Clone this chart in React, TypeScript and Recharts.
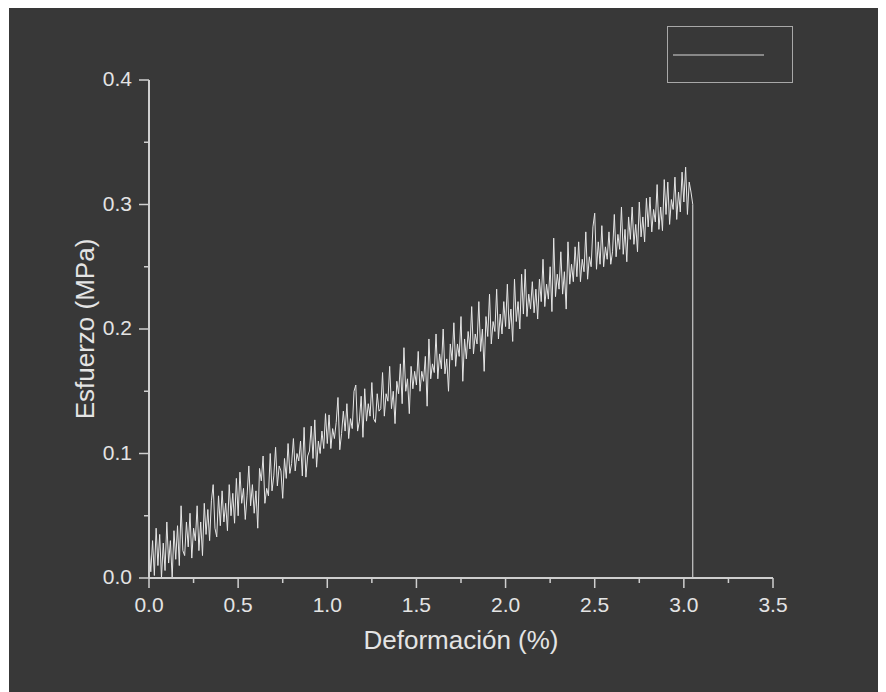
import React from 'react';
import { LineChart, Line, XAxis, YAxis, Label } from 'recharts';

// sampled every 0.01 % strain, stress in MPa
const strainStep = 0.01;
const stress = [
  0.025, 0.005, 0.030, 0.002, 0.040, 0.010, 0.035, 0.000, 0.028, 0.006,
  0.045, 0.012, 0.030, 0.000, 0.038, 0.015, 0.042, 0.010, 0.058, 0.022,
  0.018, 0.045, 0.025, 0.052, 0.016, 0.040, 0.030, 0.058, 0.022, 0.045,
  0.018, 0.060, 0.035, 0.055, 0.030, 0.062, 0.075, 0.040, 0.033, 0.066,
  0.042, 0.070, 0.045, 0.060, 0.038, 0.075, 0.050, 0.068, 0.044, 0.080,
  0.050, 0.085, 0.060, 0.072, 0.047, 0.066, 0.090, 0.058, 0.075, 0.052,
  0.070, 0.040, 0.088, 0.078, 0.098, 0.060, 0.072, 0.066, 0.100, 0.070,
  0.082, 0.105, 0.074, 0.090, 0.086, 0.064, 0.096, 0.080, 0.108, 0.084,
  0.092, 0.112, 0.086, 0.100, 0.094, 0.110, 0.082, 0.121, 0.081, 0.098,
  0.102, 0.122, 0.096, 0.127, 0.089, 0.110, 0.100, 0.118, 0.104, 0.132,
  0.108, 0.131, 0.104, 0.120, 0.112, 0.125, 0.145, 0.103, 0.116, 0.134,
  0.118, 0.140, 0.112, 0.128, 0.120, 0.150, 0.155, 0.118, 0.126, 0.146,
  0.113, 0.152, 0.126, 0.140, 0.130, 0.157, 0.128, 0.125, 0.148, 0.134,
  0.136, 0.165, 0.130, 0.148, 0.142, 0.170, 0.136, 0.150, 0.124, 0.158,
  0.148, 0.172, 0.140, 0.185, 0.150, 0.160, 0.132, 0.170, 0.152, 0.166,
  0.155, 0.182, 0.150, 0.166, 0.158, 0.178, 0.138, 0.192, 0.160, 0.172,
  0.165, 0.196, 0.160, 0.180, 0.168, 0.200, 0.164, 0.176, 0.150, 0.188,
  0.175, 0.205, 0.170, 0.188, 0.178, 0.210, 0.158, 0.192, 0.176, 0.198,
  0.184, 0.218, 0.180, 0.196, 0.188, 0.222, 0.182, 0.200, 0.166, 0.210,
  0.194, 0.228, 0.188, 0.206, 0.198, 0.232, 0.192, 0.212, 0.196, 0.222,
  0.202, 0.236, 0.200, 0.216, 0.190, 0.240, 0.206, 0.222, 0.200, 0.244,
  0.212, 0.248, 0.210, 0.228, 0.216, 0.238, 0.213, 0.232, 0.208, 0.240,
  0.222, 0.256, 0.218, 0.236, 0.224, 0.250, 0.214, 0.273, 0.226, 0.244,
  0.232, 0.262, 0.228, 0.246, 0.216, 0.270, 0.236, 0.252, 0.238, 0.266,
  0.242, 0.270, 0.238, 0.256, 0.246, 0.278, 0.240, 0.258, 0.250, 0.282,
  0.293, 0.248, 0.270, 0.252, 0.283, 0.250, 0.266, 0.256, 0.278, 0.252,
  0.262, 0.292, 0.258, 0.276, 0.264, 0.298, 0.260, 0.280, 0.254, 0.290,
  0.272, 0.298, 0.268, 0.284, 0.262, 0.302, 0.274, 0.290, 0.270, 0.305,
  0.282, 0.306, 0.278, 0.296, 0.286, 0.316, 0.280, 0.298, 0.279, 0.320,
  0.292, 0.318, 0.284, 0.304, 0.296, 0.322, 0.288, 0.310, 0.294, 0.326,
  0.302, 0.330, 0.292, 0.318, 0.310,
];
// sample breaks: stress falls to zero
const tailStrain = [3.05, 3.05];
const tailStress = [0.3, 0];

const xTicks = [0, 0.25, 0.5, 0.75, 1, 1.25, 1.5, 1.75, 2, 2.25, 2.5, 2.75, 3, 3.25, 3.5];
const yTicks = [0, 0.05, 0.1, 0.15, 0.2, 0.25, 0.3, 0.35, 0.4];

const data = [
  ...stress.map((s, i) => ({ strain: Math.round(i * strainStep * 1000) / 1000, stress: s })),
  ...tailStrain.map((x, i) => ({ strain: x, stress: tailStress[i] })),
];

const BG = '#383838';
const TEXT = '#e4e4e4';
const AXIS = '#cfcfcf';
const FONT = '"Liberation Sans", Arial, sans-serif';

const isMajor = (v: number, step: number) => Math.abs(v / step - Math.round(v / step)) < 1e-6;

const XTick = (props: any) => {
  const { x, y, payload } = props;
  const axisY = y - 10;
  const major = isMajor(payload.value, 0.5);
  return (
    <g>
      <line x1={x} x2={x} y1={axisY} y2={axisY + (major ? 10 : 5)} stroke={AXIS} strokeWidth={1.5} />
      {major && (
        <text x={x} y={axisY + 34} textAnchor="middle" fill={TEXT} fontSize={21} fontFamily={FONT}>
          {payload.value.toFixed(1)}
        </text>
      )}
    </g>
  );
};

const YTick = (props: any) => {
  const { x, y, payload } = props;
  const axisX = x + 10;
  const major = isMajor(payload.value, 0.1);
  return (
    <g>
      <line x1={axisX} x2={axisX - (major ? 10 : 5)} y1={y} y2={y} stroke={AXIS} strokeWidth={1.5} />
      {major && (
        <text x={axisX - 17} y={y} dy="0.3em" textAnchor="end" fill={TEXT} fontSize={21} fontFamily={FONT}>
          {payload.value.toFixed(1)}
        </text>
      )}
    </g>
  );
};

export default function App() {
  return (
    <div style={{ position: 'relative', width: 877, height: 686, marginTop: -2, marginLeft: 1, background: BG }}>
      <LineChart width={877} height={686} data={data} margin={{ top: 74, right: 113, bottom: 54, left: 60 }}>
        <XAxis
          dataKey="strain"
          type="number"
          domain={[0, 3.5]}
          ticks={xTicks}
          interval={0}
          height={60}
          tickSize={10}
          tickMargin={0}
          tickLine={false}
          tick={<XTick />}
          axisLine={{ stroke: AXIS, strokeWidth: 2 }}
        >
          <Label
            content={(p: any) => {
              const vb = p.viewBox;
              return (
                <text x={vb.x + vb.width / 2} y={vb.y + 62} dy="0.35em" textAnchor="middle" fill={TEXT} fontSize={26} fontFamily={FONT}>
                  Deformación (%)
                </text>
              );
            }}
          />
        </XAxis>
        <YAxis
          type="number"
          domain={[0, 0.4]}
          ticks={yTicks}
          interval={0}
          width={80}
          tickSize={10}
          tickMargin={0}
          tickLine={false}
          tick={<YTick />}
          allowDataOverflow
          axisLine={{ stroke: AXIS, strokeWidth: 2 }}
        >
          <Label
            content={(p: any) => {
              const vb = p.viewBox;
              const cx = vb.x + 16;
              const cy = vb.y + vb.height / 2;
              return (
                <text
                  transform={`translate(${cx}, ${cy}) rotate(-90)`}
                  dy="0.35em"
                  textAnchor="middle"
                  fill={TEXT}
                  fontSize={26}
                  fontFamily={FONT}
                >
                  Esfuerzo (MPa)
                </text>
              );
            }}
          />
        </YAxis>
        <Line
          type="linear"
          dataKey="stress"
          stroke="#e6e6e6"
          strokeWidth={1}
          dot={false}
          isAnimationActive={false}
        />
      </LineChart>
      {/* empty legend box, as in the original export */}
      <div
        style={{
          position: 'absolute',
          left: 658,
          top: 20,
          width: 124,
          height: 55,
          border: '1.5px solid #a8a8a8',
        }}
      >
        <div style={{ position: 'absolute', left: 5, top: 27, width: 91, height: 2, background: '#888888' }} />
      </div>
    </div>
  );
}
